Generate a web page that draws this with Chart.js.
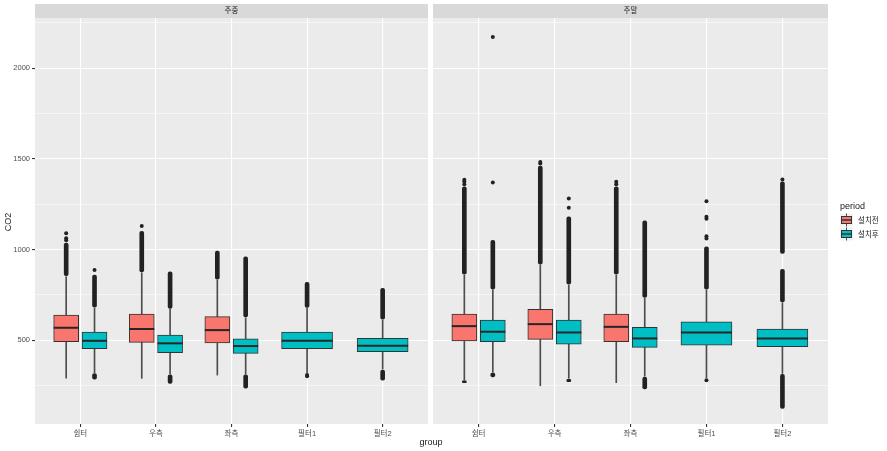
<!DOCTYPE html>
<html><head><meta charset="utf-8">
<script src="https://cdn.jsdelivr.net/npm/chart.js@4.4.0/dist/chart.umd.min.js"></script>
<style>
html,body{margin:0;padding:0;background:#fff;width:887px;height:451px;overflow:hidden;}
#a{position:absolute;left:0;top:0;}
#b{position:absolute;left:431px;top:0;}
#xt{position:absolute;top:437px;left:0;width:862px;text-align:center;font:9px 'Liberation Sans',Arial,sans-serif;color:#1a1a1a;line-height:11px;}
</style></head><body>
<canvas id="a" width="431" height="451"></canvas>
<canvas id="b" width="456" height="451"></canvas>
<div id="xt">group</div>
<script>
// ---------- data ----------
const categories = ['쉼터', '우측', '좌측', '필터1', '필터2'];
const facets = ['주중', '주말'];
const periods = ['설치전', '설치후'];
const yMajorTicks = [500, 1000, 1500, 2000];
const yMinorTicks = [250, 750, 1250, 1750, 2250];

// [lower whisker, Q1, median, Q3, upper whisker] per category (null = no data)
const weekdayBefore = [[290,491,568,638,850],[289,487,561,643,871],[307,485,555,629,831],null,null];
const weekdayAfter  = [[320,452,496,544,676],[313,430,482,528,669],[313,427,467,507,623],[320,452,496,544,675],[340,436,469,509,610]];
const weekendBefore = [[279,496,577,643,858],[248,504,588,669,914],[265,491,573,643,858],null,null];
const weekendAfter  = [[325,491,546,610,776],[289,478,542,610,803],[301,460,509,570,730],[292,472,542,601,776],[316,463,509,561,706]];

// dense outlier runs [from, to] per category
const weekdayBeforeRuns = [[[855,1035]],[[876,1100]],[[836,991]],[],[]];
const weekdayAfterRuns  = [[[681,858],[285,315]],[[674,877],[261,308]],[[628,960],[234,308]],[[680,818]],[[615,785],[279,335]]];
const weekendBeforeRuns = [[[863,1345],[265,275]],[[919,1460]],[[863,1345]],[],[]];
const weekendAfterRuns  = [[[781,1051],[297,320]],[[808,1180],[270,284]],[[735,1158],[230,296]],[[781,1014]],[[711,890],[978,1373],[123,311]]];

// isolated outliers per category
const weekdayBeforeOutliers = [[1051,1062,1090],[1130],[],[],[]];
const weekdayAfterOutliers  = [[886],[],[],[307,300],[]];
const weekendBeforeOutliers = [[1360,1375,1385],[1474,1483],[1360,1373],[],[]];
const weekendAfterOutliers  = [[1370,2172],[1230,1281],[],[1060,1073,1170,1180,1266,279],[1386]];

// ---------- styling ----------
const FONT = "'Liberation Sans', Arial, 'Noto Sans CJK KR', sans-serif";
const RED = '#F8766D', TEAL = '#00BFC4';
const OFF = 0.1875;
Chart.defaults.font.family = FONT;

function makeDatasets(before, after, bRuns, aRuns, bPts, aPts){
  const series = [
    {s: before, r: bRuns, p: bPts, c: RED},
    {s: after,  r: aRuns, p: aPts, c: TEAL}
  ];
  const whisk = [], dodged = [], single = [], med = [], runs = [], pts = [];
  categories.forEach((cat, i) => {
    const present = series.filter(o => o.s[i]);
    present.forEach((o, k) => {
      const two = present.length === 2;
      const x = two ? i + 1 + (k === 0 ? -OFF : OFF) : i + 1;
      const [lo, q1, md, q3, hi] = o.s[i];
      whisk.push({x, y: [lo, hi]});
      (two ? dodged : single).push({x, y: [q1, q3], c: o.c});
      med.push({x, y: md, r: two ? 12.5 : 25.5});
      o.r[i].forEach(rg => runs.push({x, y: rg}));
      o.p[i].forEach(v => pts.push({x, y: v}));
    });
  });
  return [
    {type:'bar', data: whisk, grouped:false, barThickness:1, backgroundColor:'#4d4d4d', borderWidth:0, order:5},
    {type:'bar', data: runs, grouped:false, barThickness:4, backgroundColor:'#222', borderWidth:0, borderRadius:2, borderSkipped:false, order:4},
    {type:'bar', data: dodged, grouped:false, barThickness:25, backgroundColor: c => c.raw ? c.raw.c : RED, borderColor:'#333', borderWidth:1, borderSkipped:false, order:3},
    {type:'bar', data: single, grouped:false, barThickness:51, backgroundColor: c => c.raw ? c.raw.c : TEAL, borderColor:'#333', borderWidth:1, borderSkipped:false, order:3},
    {type:'scatter', data: med, showLine:false, pointStyle:'line', pointRadius: c => c.raw ? c.raw.r : 0, pointBorderColor:'#262626', pointBorderWidth:2, order:1},
    {type:'scatter', data: pts, showLine:false, pointStyle:'circle', pointRadius:2, pointBackgroundColor:'#222', pointBorderWidth:0, order:2}
  ];
}

const panelPlugin = {
  id: 'panel',
  beforeDraw(chart, args, opts){
    const {ctx, chartArea:{left, right, top, bottom}} = chart;
    ctx.save();
    ctx.fillStyle = '#EBEBEB';
    ctx.fillRect(left, top, right - left, bottom - top);
    ctx.fillStyle = '#D9D9D9';
    ctx.fillRect(left, 4, right - left, top - 4);
    ctx.fillStyle = '#1A1A1A';
    ctx.font = '7.5px ' + FONT;
    ctx.textAlign = 'center';
    ctx.textBaseline = 'middle';
    ctx.fillText(opts.title, (left + right) / 2, 11);
    if (opts.yTitle) {
      ctx.save();
      ctx.translate(9, 222);
      ctx.rotate(-Math.PI / 2);
      ctx.font = '9px ' + FONT;
      ctx.fillText(opts.yTitle, 0, 0);
      ctx.restore();
    }
    ctx.restore();
  },
  afterDraw(chart, args, opts){
    if (!opts.legend) return;
    const ctx = chart.ctx;
    const x0 = 409;
    ctx.save();
    ctx.fillStyle = '#1A1A1A';
    ctx.font = '9px ' + FONT;
    ctx.textAlign = 'left';
    ctx.textBaseline = 'middle';
    ctx.fillText('period', x0, 207);
    const cols = [RED, TEAL];
    periods.forEach((p, k) => {
      const cy = 220 + k * 14;
      ctx.fillStyle = '#F2F2F2';
      ctx.fillRect(x0, cy - 6.5, 13, 13);
      ctx.strokeStyle = '#4d4d4d';
      ctx.lineWidth = 1;
      ctx.beginPath(); ctx.moveTo(x0 + 6.5, cy - 6.5); ctx.lineTo(x0 + 6.5, cy + 6.5); ctx.stroke();
      ctx.fillStyle = cols[k];
      ctx.fillRect(x0 + 1.5, cy - 3.5, 10, 7);
      ctx.strokeStyle = '#333';
      ctx.strokeRect(x0 + 1.5, cy - 3.5, 10, 7);
      ctx.lineWidth = 1.5;
      ctx.beginPath(); ctx.moveTo(x0 + 1.5, cy); ctx.lineTo(x0 + 11.5, cy); ctx.stroke();
      ctx.fillStyle = '#1A1A1A';
      ctx.font = '7.5px ' + FONT;
      ctx.fillText(p, x0 + 18, cy + 0.5);
    });
    ctx.restore();
  }
};

function makeChart(id, facetTitle, datasets, showY, extra){
  return new Chart(document.getElementById(id), {
    type: 'bar',
    data: { datasets },
    plugins: [panelPlugin],
    options: {
      responsive: false,
      animation: false,
      events: [],
      devicePixelRatio: 1,
      layout: { autoPadding: false, padding: showY ? {left:0, right:3, top:18, bottom:0} : {left:2, right:59, top:18, bottom:0} },
      plugins: {
        legend: {display:false},
        tooltip: {enabled:false},
        panel: Object.assign({title: facetTitle}, extra)
      },
      scales: {
        x: {
          type: 'linear', min: 0.4, max: 5.6, offset: false,
          afterBuildTicks: s => { s.ticks = categories.map((c, i) => ({value: i + 1})); },
          afterFit: s => { s.height = 27; },
          grid: { offset:false, color:'#FFFFFF', lineWidth:1.1, tickColor:'#333', tickLength:3, drawTicks:true },
          border: { display:false },
          ticks: { autoSkip:false, maxRotation:0, padding:2, color:'#4D4D4D', font:{size:7.5, family:FONT},
                   callback: v => categories[Math.round(v) - 1] }
        },
        y: {
          type: 'linear', min: 37, max: 2277,
          afterBuildTicks: s => { s.ticks = yMinorTicks.concat(yMajorTicks).sort((a,b)=>a-b).map(v => ({value:v})); },
          afterFit: s => { s.width = showY ? 35 : 0; },
          grid: {
            color:'#FFFFFF',
            lineWidth: c => yMajorTicks.includes(c.tick && c.tick.value) ? 1.1 : 0.55,
            tickColor: c => yMajorTicks.includes(c.tick && c.tick.value) ? '#333' : 'rgba(0,0,0,0)',
            tickLength: 3, drawTicks: showY
          },
          border: { display:false },
          ticks: { display: showY, padding:2, color:'#4D4D4D', font:{size:7.5, family:FONT},
                   callback: v => yMajorTicks.includes(v) ? String(v) : '' }
        }
      }
    }
  });
}

makeChart('a', facets[0], makeDatasets(weekdayBefore, weekdayAfter, weekdayBeforeRuns, weekdayAfterRuns, weekdayBeforeOutliers, weekdayAfterOutliers), true, {yTitle:'CO2'});
makeChart('b', facets[1], makeDatasets(weekendBefore, weekendAfter, weekendBeforeRuns, weekendAfterRuns, weekendBeforeOutliers, weekendAfterOutliers), false, {legend:true});
</script>
</body></html>
